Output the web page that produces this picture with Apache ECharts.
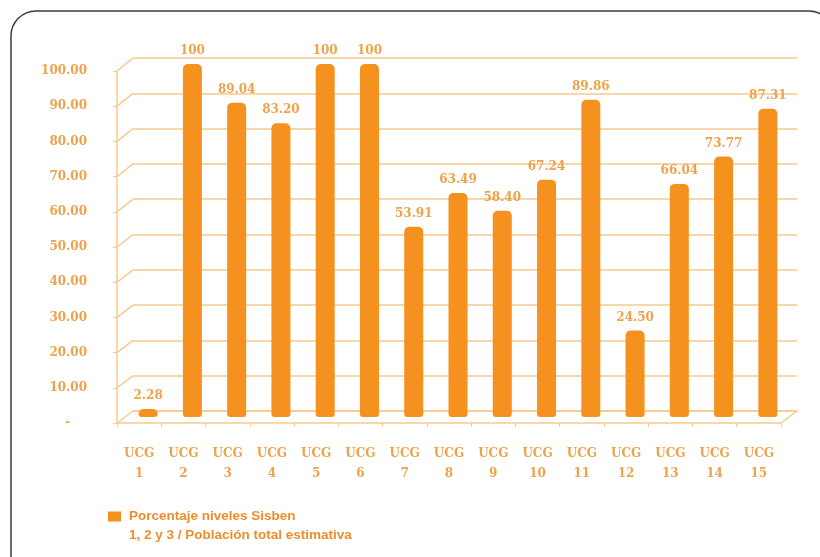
<!DOCTYPE html>
<html>
<head>
<meta charset="utf-8">
<script src="https://cdn.jsdelivr.net/npm/echarts@6/dist/echarts.min.js"></script>
<style>
  html, body { margin: 0; padding: 0; background: #fff; }
  #chart { width: 820px; height: 557px; }
</style>
</head>
<body>
<div id="chart"></div>
<script>
const categories = ["UCG 1", "UCG 2", "UCG 3", "UCG 4", "UCG 5", "UCG 6", "UCG 7", "UCG 8",
  "UCG 9", "UCG 10", "UCG 11", "UCG 12", "UCG 13", "UCG 14", "UCG 15"];
const values = [2.28, 100, 89.04, 83.20, 100, 100, 53.91, 63.49, 58.40, 67.24, 89.86, 24.50, 66.04, 73.77, 87.31];
const yTicks = [0, 10, 20, 30, 40, 50, 60, 70, 80, 90, 100];
const seriesName = "Porcentaje niveles Sisben\n1, 2 y 3 / Población total estimativa";

const barColor = "#f5921f";
const gridColor = "#f9c98f";
const textColor = "#efa24c";

// back wall, bars, front axis (fake 3d look)
const backGrid = { left: 133, top: 58, width: 664, height: 353 };
const barGrid = { left: 126, top: 64, width: 664, height: 353 };
const frontGrid = { left: 117, top: 71, width: 664, height: 352 };

const chart = echarts.init(document.getElementById("chart"));

const hidden = { axisLine: { show: false }, axisTick: { show: false }, axisLabel: { show: false }, splitLine: { show: false } };

chart.setOption({
  animation: false,
  legend: {
    left: 108,
    top: 488,
    padding: 0,
    icon: "rect",
    itemWidth: 13,
    itemHeight: 10,
    selectedMode: false,
    // empty first line keeps the square level with the first text line
    formatter: (name) => "\n" + name,
    textStyle: {
      color: "#ef8d2c",
      fontFamily: "Liberation Sans",
      fontWeight: "bold",
      fontSize: 13.5,
      lineHeight: 19,
      padding: [0, 0, 0, 3]
    },
    data: [seriesName]
  },
  grid: [
    Object.assign({}, backGrid),
    Object.assign({}, barGrid),
    Object.assign({}, frontGrid)
  ],
  xAxis: [
    Object.assign({ type: "category", gridIndex: 0, data: categories }, hidden,
      { axisLine: { show: true, lineStyle: { color: gridColor, width: 1.5 } } }),
    Object.assign({ type: "category", gridIndex: 1, data: categories }, hidden),
    {
      type: "category", gridIndex: 2, data: categories,
      axisLine: { lineStyle: { color: gridColor, width: 1.5 } },
      axisTick: { show: true, length: 4, lineStyle: { color: gridColor } },
      axisLabel: {
        color: textColor, fontFamily: "DejaVu Serif", fontWeight: "bold", fontSize: 12,
        lineHeight: 20, margin: 21,
        formatter: (v) => v.replace(" ", "\n")
      },
      splitLine: { show: false }
    }
  ],
  yAxis: [
    Object.assign({ type: "value", gridIndex: 0, min: 0, max: 100, interval: 10 }, hidden,
      { splitLine: { show: true, lineStyle: { color: gridColor, width: 1.5 } } }),
    Object.assign({ type: "value", gridIndex: 1, min: 0, max: 100, interval: 10 }, hidden),
    {
      type: "value", gridIndex: 2, min: 0, max: 100, interval: 10,
      axisLine: { show: true, lineStyle: { color: gridColor, width: 1.5 } },
      axisTick: { show: true, length: 4, lineStyle: { color: gridColor } },
      axisLabel: {
        color: textColor, fontFamily: "DejaVu Serif", fontWeight: "bold", fontSize: 12,
        margin: 30,
        formatter: (v) => (v === 0 ? "-    " : v.toFixed(2))
      },
      splitLine: { show: false }
    }
  ],
  series: [
    {
      name: seriesName,
      type: "bar",
      xAxisIndex: 1,
      yAxisIndex: 1,
      data: values,
      barWidth: 19,
      itemStyle: { color: barColor, borderRadius: [5, 5, 3, 3] },
      label: {
        show: true,
        position: "top",
        distance: 7,
        color: textColor,
        fontFamily: "DejaVu Serif",
        fontWeight: "bold",
        fontSize: 12,
        formatter: (p) => (p.value === 100 ? "100" : p.value.toFixed(2))
      }
    }
  ]
});

// side wall and floor edges joining front axis to back wall
const edges = [];
const edgeStyle = { stroke: gridColor, lineWidth: 1.5 };
yTicks.forEach((v) => {
  const yf = chart.convertToPixel({ yAxisIndex: 2 }, v);
  const yb = chart.convertToPixel({ yAxisIndex: 0 }, v);
  edges.push({
    type: "line", silent: true,
    shape: { x1: frontGrid.left, y1: yf, x2: backGrid.left, y2: yb },
    style: edgeStyle
  });
});
edges.push({
  type: "line", silent: true,
  shape: {
    x1: frontGrid.left + frontGrid.width, y1: chart.convertToPixel({ yAxisIndex: 2 }, 0),
    x2: backGrid.left + backGrid.width, y2: chart.convertToPixel({ yAxisIndex: 0 }, 0)
  },
  style: edgeStyle
});
edges.push({
  type: "rect", silent: true,
  shape: { x: 11, y: 11, width: 823, height: 600, r: 25 },
  style: { fill: "none", stroke: "#3c3c3c", lineWidth: 1.5 }
});

chart.setOption({ graphic: edges });
</script>
</body>
</html>
